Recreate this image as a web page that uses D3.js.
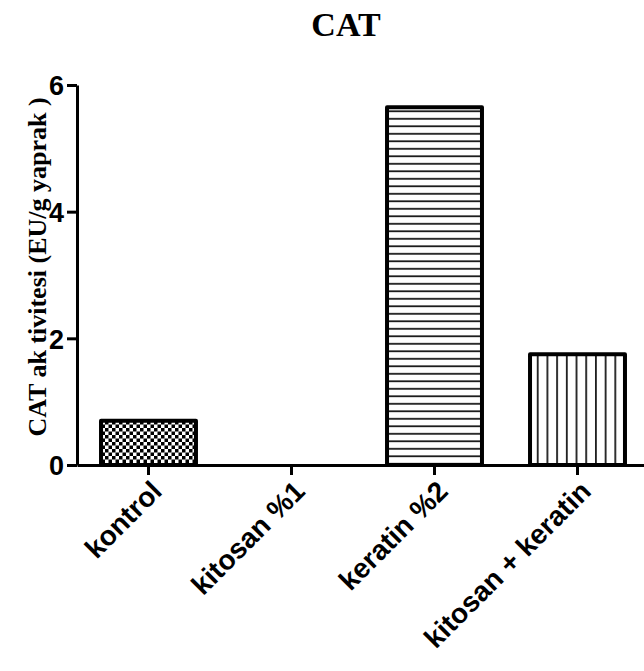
<!DOCTYPE html>
<html>
<head>
<meta charset="utf-8">
<script src="https://cdn.jsdelivr.net/npm/d3@7"></script>
<style>
body { margin: 0; background: #fff; }
</style>
</head>
<body>
<script>
const SvgWidth = 644, SvgHeight = 671;
var margin = {top: 85, left: 77};
var Height = 380;

// data
var categories = ["kontrol", "kitosan %1", "keratin %2", "kitosan + keratin"];
var values = [0.7, 0, 5.65, 1.75];
var yTicks = [0, 2, 4, 6];
var patterns = ["checker", "none", "hlines", "vlines"];

var svg = d3.select('body')
	.append('svg')
	.attr('width', SvgWidth)
	.attr('height', SvgHeight)
	.style('background-color', 'white');

// fill patterns
var defs = svg.append('defs');
var checker = defs.append('pattern')
	.attr('id', 'checker')
	.attr('patternUnits', 'userSpaceOnUse')
	.attr('width', 7).attr('height', 7);
checker.append('rect').attr('width', 7).attr('height', 7).attr('fill', 'white');
checker.append('rect').attr('width', 3.5).attr('height', 3.5).attr('fill', 'black');
checker.append('rect').attr('x', 3.5).attr('y', 3.5).attr('width', 3.5).attr('height', 3.5).attr('fill', 'black');

var hl = defs.append('pattern')
	.attr('id', 'hlines')
	.attr('patternUnits', 'userSpaceOnUse')
	.attr('width', 10).attr('height', 7.5);
hl.append('rect').attr('width', 10).attr('height', 7.5).attr('fill', 'white');
hl.append('rect').attr('y', 3).attr('width', 10).attr('height', 1.6).attr('fill', 'black');

var vl = defs.append('pattern')
	.attr('id', 'vlines')
	.attr('patternUnits', 'userSpaceOnUse')
	.attr('width', 9.7).attr('height', 10);
vl.append('rect').attr('width', 9.7).attr('height', 10).attr('fill', 'white');
vl.append('rect').attr('x', 4).attr('width', 1.6).attr('height', 10).attr('fill', 'black');

var g = svg.append('g')
	.attr('transform', 'translate(' + margin.left + ',' + margin.top + ')');

var x = d3.scaleBand()
	.domain(categories)
	.range([0, 572])
	.paddingInner(0.336)
	.paddingOuter(0.168);
var y = d3.scaleLinear().domain([0, 6]).range([Height, 0]);

// title
svg.append('text')
	.attr('x', 346)
	.attr('y', 36)
	.attr('text-anchor', 'middle')
	.style('font-family', '"Liberation Serif", "Times New Roman", serif')
	.style('font-weight', 'bold')
	.style('font-size', '34px')
	.text('CAT');

// y title
svg.append('text')
	.attr('transform', 'translate(46,' + (margin.top + Height / 2 - 8) + ') rotate(-90)')
	.attr('text-anchor', 'middle')
	.style('font-family', '"Liberation Serif", "Times New Roman", serif')
	.style('font-weight', 'bold')
	.style('font-size', '26px')
	.text('CAT ak tivitesi (EU/g yaprak )');

// bars
g.selectAll('.bar')
	.data(values)
	.enter().append('rect')
	.attr('class', 'bar')
	.attr('x', function(d, i) { return x(categories[i]); })
	.attr('y', function(d) { return y(d); })
	.attr('width', x.bandwidth())
	.attr('height', function(d) { return Height - y(d); })
	.attr('fill', function(d, i) { return patterns[i] == 'none' ? 'white' : 'url(#' + patterns[i] + ')'; })
	.attr('stroke', function(d) { return d > 0 ? 'black' : 'none'; })
	.attr('stroke-width', 4)
	.attr('stroke-linejoin', 'round');

// y axis
var yAxis = g.append('g')
	.attr('class', 'axis axis--y')
	.call(d3.axisLeft(y).tickValues(yTicks).tickFormat(d3.format('d'))
		.tickSize(10).tickSizeOuter(0).tickPadding(3));

// x axis
var xAxis = g.append('g')
	.attr('class', 'axis axis--x')
	.attr('transform', 'translate(0,' + Height + ')')
	.call(d3.axisBottom(x).tickSize(10).tickSizeOuter(0));

svg.selectAll('.axis path, .axis line')
	.attr('stroke', 'black')
	.attr('stroke-width', 3);
svg.selectAll('.axis text')
	.attr('fill', 'black')
	.style('font-family', '"Liberation Sans", Arial, sans-serif')
	.style('font-weight', 'bold');
yAxis.selectAll('text').style('font-size', '27px').attr('dy', '0.36em');
xAxis.selectAll('text')
	.style('font-size', '28px')
	.attr('text-anchor', 'end')
	.attr('y', 0)
	.attr('dy', 0)
	.attr('transform', 'translate(15,28) rotate(-45)');
</script>
</body>
</html>
